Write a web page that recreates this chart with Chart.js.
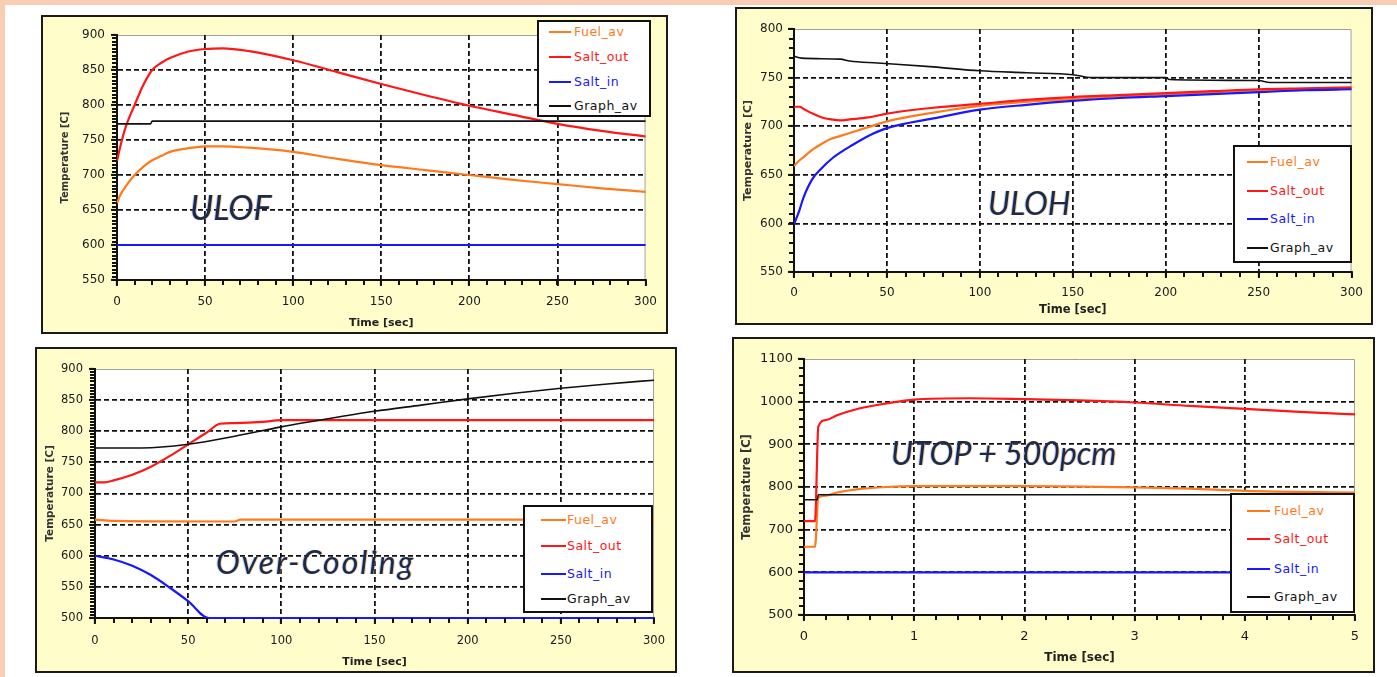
<!DOCTYPE html>
<html>
<head>
<meta charset="utf-8">
<script src="https://cdn.jsdelivr.net/npm/chart.js@4.4.1/dist/chart.umd.min.js"></script>
<style>
body{margin:0;background:#f9cdb3;width:1397px;height:677px;overflow:hidden;position:relative;font-family:"DejaVu Sans",sans-serif}
#page{position:absolute;left:5px;top:5px;right:0;bottom:0;background:#fff}
.frame{position:absolute;box-sizing:border-box;border:2px solid #1a1a1a;background:#fffdca}
.frame canvas{position:absolute;left:0;top:0}
.legend{position:absolute;box-sizing:border-box;border:2px solid #111;background:#fff}
.row{position:absolute;height:16px;line-height:16px;letter-spacing:0.5px;white-space:nowrap}
.row i{position:absolute;height:2px}
.note{position:absolute;font-family:Lato,sans-serif;font-style:italic;color:#1c2a48;white-space:nowrap;line-height:1;
  text-shadow:1px 0 0 rgba(235,150,50,.45),-1px 0 0 rgba(60,120,255,.35)}
</style>
</head>
<body>
<div id="page"></div>
<script>
const series = ["Fuel_av", "Salt_out", "Salt_in", "Graph_av"];
const colors = ["#ff7a1c", "#ff1616", "#1818ff", "#111111"];

// ULOF
const ulofTime = [0, 2, 5, 10, 15, 20, 25, 30, 40, 50, 60, 75, 100, 125, 150, 175, 200, 225, 250, 275, 300];
const ulofFuel = [660, 672, 684, 700, 712, 721, 727, 733, 738, 741, 741, 739, 733, 723, 714, 707, 700, 693, 687, 681, 676];
const ulofSaltOut = [720, 742, 769, 800, 829, 850, 860, 867, 876, 880, 881, 877, 864, 847, 830, 814, 799, 786, 773, 763, 755];
const ulofSaltInTime = [0, 300];
const ulofSaltIn = [600, 600];
const ulofGraphTime = [0, 19, 20, 300];
const ulofGraph = [773, 773, 777, 777];

// ULOH
const ulohTime = [0, 3, 5, 10, 15, 20, 25, 30, 40, 50, 75, 100, 125, 150, 175, 200, 225, 250, 275, 300];
const ulohFuel = [659, 665, 668, 676, 682, 687, 690, 693, 699, 705, 714, 721, 725, 728, 731, 733, 735, 737, 738, 739];
const ulohSaltOut = [720, 720, 718, 713, 709, 707, 706, 707, 709, 713, 719, 723, 727, 730, 732, 734, 736, 738, 739, 740];
const ulohSaltIn = [599, 614, 626, 646, 657, 666, 673, 679, 690, 698, 708, 717, 722, 726, 729, 731, 733, 735, 737, 738];
const ulohGraphTime = [0, 4, 25, 30, 45, 75, 100, 125, 150, 160, 200, 202, 250, 256, 300];
const ulohGraph = [772, 770, 769, 767, 765, 761, 757, 755, 753, 750, 750, 748, 747, 745, 745];

// Over-Cooling
const ocFuelTime = [0, 10, 75, 78, 300];
const ocFuel = [658, 656, 655, 658, 658];
const ocSaltOutTime = [0, 5, 10, 20, 30, 40, 50, 60, 67, 75, 90, 100, 300];
const ocSaltOut = [718, 718, 721, 730, 743, 760, 779, 798, 812, 813, 815, 818, 818];
const ocSaltInTime = [0, 10, 20, 30, 40, 50, 61, 300];
const ocSaltIn = [600, 594, 584, 569, 549, 527, 500, 500];
const ocGraphTime = [0, 25, 50, 75, 100, 125, 150, 175, 200, 225, 250, 275, 300];
const ocGraph = [773, 773, 779, 792, 807, 820, 832, 842, 852, 861, 869, 876, 882];

// UTOP + 500pcm
const utopFuelTime = [0, 0.1, 0.13, 0.2, 0.3, 0.5, 0.75, 1, 2, 3, 3.5, 4, 5];
const utopFuel = [660, 660, 775, 780, 787, 795, 800, 802, 802, 799, 796, 791, 787];
const utopSaltOutTime = [0, 0.1, 0.13, 0.2, 0.3, 0.5, 0.75, 1, 1.5, 2, 2.5, 3, 3.5, 4, 4.5, 5];
const utopSaltOut = [720, 720, 942, 957, 968, 984, 996, 1005, 1008, 1006, 1003, 998, 990, 983, 976, 970];
const utopSaltInTime = [0, 5];
const utopSaltIn = [600, 600];
const utopGraphTime = [0, 0.12, 0.13, 5];
const utopGraph = [770, 770, 782, 782];

function pts(t, v) {
  return t.map((x, i) => ({ x: x, y: v[i] }));
}

// white plot area, grey top/right edge and the small minor ticks
function panelPlugin(xMinor, yMinor) {
  return {
    id: "panel",
    beforeDraw(chart) {
      const a = chart.chartArea, c = chart.ctx;
      c.save();
      c.fillStyle = "#fff";
      c.fillRect(a.left, a.top, a.width, a.height);
      c.strokeStyle = "#a0a0a0";
      c.lineWidth = 1;
      c.beginPath();
      c.moveTo(a.left, a.top + 0.5);
      c.lineTo(a.right - 0.5, a.top + 0.5);
      c.lineTo(a.right - 0.5, a.bottom);
      c.stroke();
      c.restore();
    },
    afterDatasetsDraw(chart) {
      const a = chart.chartArea, c = chart.ctx;
      const xs = chart.scales.x, ys = chart.scales.y;
      c.save();
      c.setLineDash([]);
      c.strokeStyle = "#111";
      c.lineWidth = 2;
      c.beginPath();
      let n = Math.round((xs.max - xs.min) / xMinor);
      for (let i = 0; i <= n; i++) {
        const p = Math.round(xs.getPixelForValue(xs.min + i * xMinor));
        c.moveTo(p, a.bottom);
        c.lineTo(p, a.bottom + 5);
      }
      n = Math.round((ys.max - ys.min) / yMinor);
      for (let i = 0; i <= n; i++) {
        const p = Math.round(ys.getPixelForValue(ys.min + i * yMinor));
        c.moveTo(a.left, p);
        c.lineTo(a.left - 5, p);
      }
      c.stroke();
      c.restore();
    }
  };
}

function makePanel(p) {
  const frame = document.createElement("div");
  frame.className = "frame";
  frame.style.left = p.frame[0] + "px";
  frame.style.top = p.frame[1] + "px";
  frame.style.width = p.frame[2] + "px";
  frame.style.height = p.frame[3] + "px";
  document.body.appendChild(frame);

  const cx = p.frame[0] + 2, cy = p.frame[1] + 2;
  const cw = p.frame[2] - 4, ch = p.frame[3] - 4;
  const canvas = document.createElement("canvas");
  canvas.width = cw;
  canvas.height = ch;
  frame.appendChild(canvas);

  const [pl, pt, pr, pb] = p.plot;
  const datasets = p.data.map((d, i) => ({
    label: series[i],
    data: pts(d[0], d[1]),
    borderColor: colors[i],
    borderWidth: i === 3 ? 1.6 : 2.2,
    pointRadius: 0,
    clip: 3,
    cubicInterpolationMode: "monotone",
    order: i === 3 ? 0 : 4 - i
  }));

  const gridColor = (max) => (ctx) =>
    ctx.tick && (ctx.index === 0 || Math.abs(ctx.tick.value - max) < 1e-6) ? "rgba(0,0,0,0)" : "#111";

  new Chart(canvas, {
    type: "line",
    data: { datasets: datasets },
    plugins: [panelPlugin(p.x.minor, p.y.minor)],
    options: {
      responsive: false,
      animation: false,
      layout: { padding: { left: 0, bottom: 0, top: pt - cy, right: cx + cw - pr } },
      plugins: {
        legend: { display: false },
        tooltip: { enabled: false }
      },
      scales: {
        x: {
          type: "linear",
          min: p.x.min,
          max: p.x.max,
          afterFit: (s) => { s.height = cy + ch - pb; },
          ticks: { stepSize: p.x.step, padding: p.x.pad, color: "#1a1a1a", maxRotation: 0, autoSkip: false,
                   callback: (v) => String(v), font: { family: "DejaVu Sans", size: p.x.font } },
          grid: { color: gridColor(p.x.max), lineWidth: 1.8, tickLength: 6, tickColor: "#111", tickWidth: 2 },
          border: { color: "#111", width: 2, dash: [5, 3] },
          title: { display: true, text: "Time [sec]", color: "#222", padding: { top: 0, bottom: p.x.titlePad },
                   font: { family: "DejaVu Sans", size: p.x.titleFont, weight: "bold" } }
        },
        y: {
          min: p.y.min,
          max: p.y.max,
          afterFit: (s) => { s.width = pl - cx; },
          ticks: { stepSize: p.y.step, padding: p.y.pad, color: "#1a1a1a",
                   callback: (v) => String(v), font: { family: "DejaVu Sans", size: p.y.font } },
          grid: { color: gridColor(p.y.max), lineWidth: 1.8, tickLength: 6, tickColor: "#111", tickWidth: 2 },
          border: { color: "#111", width: 2, dash: [5, 3] },
          title: { display: true, text: "Temperature [C]", color: "#333", padding: { top: p.y.titlePad, bottom: 0 },
                   font: { family: "DejaVu Sans", size: p.y.titleFont, weight: "bold" } }
        }
      }
    }
  });

  const lg = document.createElement("div");
  lg.className = "legend";
  const [lx, ly, lw, lh] = p.legend.box;
  lg.style.left = lx + "px";
  lg.style.top = ly + "px";
  lg.style.width = lw + "px";
  lg.style.height = lh + "px";
  document.body.appendChild(lg);
  series.forEach((name, i) => {
    const row = document.createElement("div");
    row.className = "row";
    row.style.left = (p.legend.text - lx - 2) + "px";
    row.style.top = (p.legend.rows[i] - ly - 2 - 8) + "px";
    row.style.color = colors[i];
    row.style.fontSize = p.legend.font + "px";
    row.textContent = name;
    const ln = document.createElement("i");
    ln.style.left = (p.legend.line[0] - p.legend.text) + "px";
    ln.style.width = p.legend.line[1] + "px";
    ln.style.top = "7px";
    ln.style.background = colors[i];
    row.appendChild(ln);
    lg.appendChild(row);
  });

  const note = document.createElement("div");
  note.className = "note";
  note.textContent = p.note.text;
  note.style.fontSize = p.note.size + "px";
  note.style.left = p.note.x + "px";
  note.style.top = (p.note.base - 0.887 * p.note.size) + "px";
  note.style.letterSpacing = (p.note.ls || 0) + "px";
  document.body.appendChild(note);
}

makePanel({
  frame: [41, 15, 627, 319],
  plot: [117, 35, 651, 280],
  x: { min: 0, max: 300, step: 50, minor: 10, font: 12, pad: 9, titleFont: 11, titlePad: 2 },
  y: { min: 550, max: 900, step: 50, minor: 5, font: 12, pad: 6, titleFont: 10, titlePad: 16 },
  data: [[ulofTime, ulofFuel], [ulofTime, ulofSaltOut], [ulofSaltInTime, ulofSaltIn], [ulofGraphTime, ulofGraph]],
  legend: { box: [537, 20, 114, 97], rows: [32, 57, 82, 106], line: [549, 22], text: 574, font: 12.5 },
  note: { text: "ULOF", x: 190, base: 220, size: 34 }
});

makePanel({
  frame: [735, 7, 638, 318],
  plot: [794, 29, 1352, 272],
  x: { min: 0, max: 300, step: 50, minor: 10, font: 12, pad: 8, titleFont: 11.5, titlePad: 6 },
  y: { min: 550, max: 800, step: 50, minor: 10, font: 12, pad: 5, titleFont: 11, titlePad: 5 },
  data: [[ulohTime, ulohFuel], [ulohTime, ulohSaltOut], [ulohTime, ulohSaltIn], [ulohGraphTime, ulohGraph]],
  legend: { box: [1233, 145, 119, 118], rows: [162, 191, 219, 248], line: [1247, 21], text: 1270, font: 12.5 },
  note: { text: "ULOH", x: 988, base: 215, size: 32 }
});

makePanel({
  frame: [35, 347, 642, 326],
  plot: [95, 369, 662, 618],
  x: { min: 0, max: 300, step: 50, minor: 10, font: 11.5, pad: 10, titleFont: 11, titlePad: 2 },
  y: { min: 500, max: 900, step: 50, minor: 5, font: 11.5, pad: 6, titleFont: 10.5, titlePad: 7 },
  data: [[ocFuelTime, ocFuel], [ocSaltOutTime, ocSaltOut], [ocSaltInTime, ocSaltIn], [ocGraphTime, ocGraph]],
  legend: { box: [523, 505, 130, 108], rows: [520, 546, 574, 599], line: [541, 25], text: 567, font: 12.5 },
  note: { text: "Over-Cooling", x: 216, base: 574, size: 32, ls: 2 }
});

makePanel({
  frame: [732, 337, 643, 336],
  plot: [804, 359, 1355, 615],
  x: { min: 0, max: 5, step: 1, minor: 0.2, font: 13, pad: 8, titleFont: 12, titlePad: 6 },
  y: { min: 500, max: 1100, step: 100, minor: 20, font: 13, pad: 5, titleFont: 11.5, titlePad: 6 },
  data: [[utopFuelTime, utopFuel], [utopSaltOutTime, utopSaltOut], [utopSaltInTime, utopSaltIn], [utopGraphTime, utopGraph]],
  legend: { box: [1230, 493, 125, 120], rows: [511, 539, 569, 597], line: [1247, 23], text: 1274, font: 12.5 },
  note: { text: "UTOP + 500pcm", x: 891, base: 465, size: 32 }
});
</script>
</body>
</html>
